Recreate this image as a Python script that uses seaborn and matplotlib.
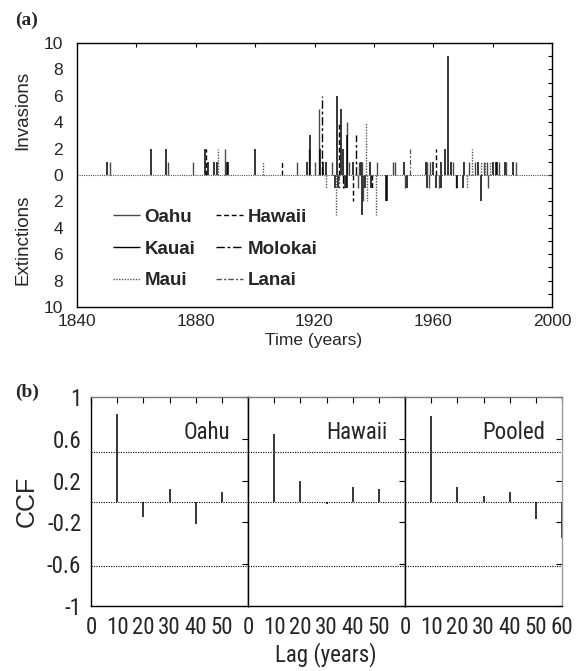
import matplotlib
matplotlib.use("Agg")
import matplotlib.pyplot as plt
import seaborn as sns
from matplotlib.ticker import MultipleLocator, FixedLocator

# (a) invasions (+) and extinctions (-) per island and year
oahu_years = [1851, 1870.5, 1879, 1890, 1914, 1918, 1920, 1921.5, 1926, 1930.8, 1931.5, 1935, 1936,
              1941, 1946.5, 1947, 1958, 1959, 1966.5, 1972, 1974, 1977, 1978, 1982, 1984.5, 1988,
              1930, 1934.5, 1936.5, 1950.5, 1958.5, 1962, 1967.5, 1978.5]
oahu_counts = [1, 1, 1, 2, 1, 2, 1, 5, 1, 4, 1, 1, 1,
               1, 1, 1, 1, 1, 1, 1, 1, 1, 1, 1, 1, 1,
               -1, -1, -2, -1, -1, -1, -1, -1]

kauai_years = [1850, 1865, 1870, 1883, 1884, 1886, 1887, 1890.5, 1891, 1900, 1917.5, 1918.5, 1922,
               1923, 1924, 1927.6, 1929, 1929.5, 1931, 1933, 1935.5, 1938.6, 1950, 1957.5, 1960,
               1962.5, 1964, 1965, 1966, 1970.5, 1975, 1980, 1981, 1981.5, 1984, 1987,
               1927, 1927.8, 1930.5, 1931, 1936, 1937, 1939, 1944, 1944.3, 1951, 1958, 1961,
               1962.6, 1968, 1970, 1976]
kauai_counts = [1, 2, 2, 2, 1, 1, 1, 1, 1, 2, 1, 3, 2,
                1, 1, 6, 5, 2, 3, 1, 1, 1, 1, 1, 1,
                1, 2, 9, 1, 1, 1, 1, 1, 1, 1, 1,
                -1, -1, -1, -1, -3, -1, -1, -2, -2, -1, -1, -1,
                -1, -1, -1, -2]

maui_years = [1887.5, 1902.5, 1937.3, 1973, 1976, 1977.5, 1979,
              1924, 1927.3, 1937.7, 1940.7, 1971.5]
maui_counts = [2, 1, 4, 2, 1, 1, 1,
               -1, -3, -2, -3, -1]

hawaii_years = [1883.5, 1909, 1928.3, 1961, 1933, 1939.3]
hawaii_counts = [2, 1, 4, 2, -2, -1]

molokai_years = [1922.5, 1934, 1929.7]
molokai_counts = [6, 3, -1]

lanai_years = [1952, 1928.2]
lanai_counts = [2, -1]

# (b) cross-correlation of invasions and extinctions
lags = [10, 20, 30, 40, 50]
oahu_ccf = [0.84, -0.15, 0.12, -0.22, 0.09]
hawaii_ccf = [0.65, 0.20, -0.02, 0.14, 0.12]
pooled_lags = [10, 20, 30, 40, 50, 60]
pooled_ccf = [0.82, 0.14, 0.05, 0.09, -0.17, -0.35]
ccf_upper = 0.47
ccf_lower = -0.62

sns.set_theme(style="white")
plt.rcParams["font.family"] = ["Liberation Sans", "DejaVu Sans"]
narrow = ["Roboto Condensed", "Liberation Sans Narrow", "DejaVu Sans"]
nkw = dict(family=narrow, fontstretch="condensed")

W, H = 581, 671
fig = plt.figure(figsize=(W / 100, H / 100), dpi=100)
fig.patch.set_facecolor("white")

# ---- panel (a) ----
ax = fig.add_axes([77 / W, 1 - 307 / H, 475 / W, 264 / H])
islands = [
    ("Oahu", oahu_years, oahu_counts, "#4a4a4a", "-", 1.0),
    ("Kauai", kauai_years, kauai_counts, "black", "-", 1.1),
    ("Maui", maui_years, maui_counts, "#555555", (0, (1, 1)), 1.0),
    ("Hawaii", hawaii_years, hawaii_counts, "black", (0, (3.5, 2)), 1.0),
    ("Molokai", molokai_years, molokai_counts, "black", (0, (6, 2, 2, 2)), 1.0),
    ("Lanai", lanai_years, lanai_counts, "#555555", (0, (4, 1.5, 1.5, 1.5)), 0.9),
]
for name, yrs, cnt, col, ls, lw in islands:
    ax.vlines(yrs, 0, cnt, colors=col, linestyles=ls, linewidth=lw, label=name)
ax.axhline(0, color="#555555", ls=(0, (1, 1)), lw=0.8)
ax.set_xlim(1840, 2000)
ax.set_ylim(-10, 10)
ax.xaxis.set_major_locator(MultipleLocator(40))
ax.xaxis.set_minor_locator(MultipleLocator(20))
ax.yaxis.set_major_locator(MultipleLocator(2))
ax.yaxis.set_minor_locator(MultipleLocator(1))
ax.set_yticklabels([str(abs(int(v))) for v in ax.get_yticks()])
ax.tick_params(which="both", direction="in", top=True, right=True, length=3, width=0.8,
               labelsize=12.5, color="black")
ax.tick_params(axis="y", pad=10)
ax.tick_params(axis="x", pad=5)
for s in ax.spines.values():
    s.set_color("black")
    s.set_linewidth(1.0)

leg = ax.legend(loc="upper left", bbox_to_anchor=(0.075, 0.372), ncol=2, frameon=False,
                borderpad=0, borderaxespad=0, handlelength=1.45, handletextpad=0.25,
                labelspacing=0.78, columnspacing=1.1,
                prop={"weight": "bold", "size": 13.5})
for line in leg.get_lines():
    line.set_linewidth(1.0)

fig.text(23 / W, 1 - 110 / H, "Invasions", rotation=90, ha="center", va="center", fontsize=13.5)
fig.text(23 / W, 1 - 240 / H, "Extinctions", rotation=90, ha="center", va="center", fontsize=13.5)
fig.text(314 / W, 1 - 340 / H, "Time (years)", ha="center", va="center", fontsize=12.5)
fig.text(15 / W, 1 - 20 / H, "(a)", ha="left", va="center", fontsize=14, fontweight="bold",
         family="Liberation Serif")

# ---- panel (b) ----
left, right, top, bottom = 91, 562, 397, 606
pw = (right - left) / 3
panels = [("Oahu", lags, oahu_ccf), ("Hawaii", lags, hawaii_ccf), ("Pooled", pooled_lags, pooled_ccf)]
yt = [-1, -0.6, -0.2, 0.2, 0.6, 1]
for i, (name, lg, vals) in enumerate(panels):
    bx = fig.add_axes([(left + i * pw) / W, 1 - bottom / H, pw / W, (bottom - top) / H])
    for b in (ccf_upper, 0, ccf_lower):
        bx.axhline(b, color="black", ls=(0, (1, 1.2)), lw=0.8)
    bx.vlines(lg, 0, vals, colors="black", linewidth=1.1)
    bx.set_xlim(0, 60)
    bx.set_ylim(-1, 1)
    bx.yaxis.set_major_locator(FixedLocator(yt))
    xt = [0, 10, 20, 30, 40, 50] if i < 2 else [0, 10, 20, 30, 40, 50, 60]
    bx.xaxis.set_major_locator(FixedLocator(xt))
    bx.set_xticklabels([str(v) for v in xt], fontsize=16.5, **nkw)
    if i == 0:
        bx.set_yticklabels(["-1", "-0.6", "-0.2", "0.2", "0.6", "1"], fontsize=16.5, **nkw)
    else:
        bx.set_yticklabels([])
    bx.tick_params(direction="in", top=True, right=True, length=4, width=0.8, color="black")
    bx.tick_params(axis="x", pad=7)
    bx.tick_params(axis="y", pad=7)
    for s in bx.spines.values():
        s.set_color("black")
        s.set_linewidth(1.0)
    bx.spines["top"].set_color("#777777")
    if i == 2:
        bx.spines["right"].set_color("#999999")
    bx.text(0.89, 0.83, name, transform=bx.transAxes, ha="right", va="center",
            fontsize=16.5, **nkw)

fig.text(27 / W, 1 - 501 / H, "CCF", rotation=90, ha="center", va="center", fontsize=18)
fig.text(326 / W, 1 - 655 / H, "Lag (years)", ha="center", va="center", fontsize=16.5, **nkw)
fig.text(15 / W, 1 - 392 / H, "(b)", ha="left", va="center", fontsize=14, fontweight="bold",
         family="Liberation Serif")

fig.savefig("out.png", dpi=100, facecolor="white")
